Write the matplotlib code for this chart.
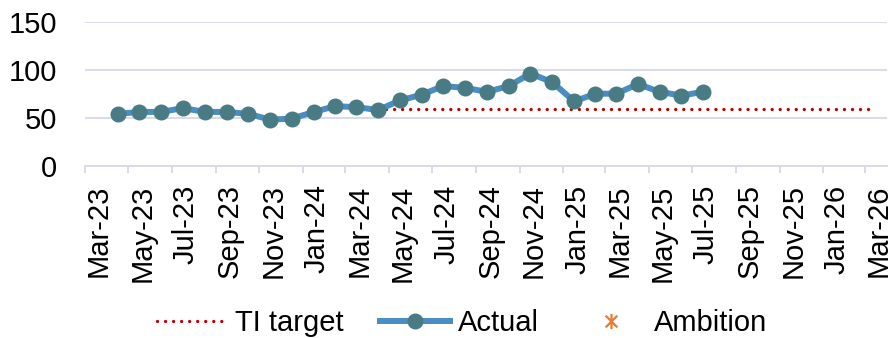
import matplotlib
matplotlib.use("Agg")
import matplotlib.pyplot as plt
import matplotlib.dates as mdates
from matplotlib.path import Path
import pandas as pd

# monthly values, one per month starting Apr-23
actual_start = "2023-04"
actual = [54, 56, 56, 60, 56, 56, 54, 48, 49, 56, 62, 61, 58, 68,
          74, 83, 81, 77, 83, 96, 87, 67, 75, 75, 85, 77, 73, 77]

target_start = "2024-04"
target = [59] * 24          # Apr-24 .. Mar-26

ambition = []               # only shown in the legend

y_ticks = [0, 50, 100, 150]


def mid_month(start, n):
    # Excel puts each monthly point in the middle of its month slot
    per = pd.period_range(start, periods=n, freq="M")
    return [p.start_time + (p.end_time - p.start_time) / 2 for p in per]


plt.rcParams["font.family"] = ["Liberation Sans", "DejaVu Sans"]

fig = plt.figure(figsize=(8.94, 3.38), dpi=100)
ax = fig.add_axes([85 / 894, 1 - 165.7 / 338, 802 / 894, 144 / 338])

grid_col = "#D9D9E8"

ax.plot(mid_month(target_start, len(target)), target, color="#C00000",
        lw=2.4, linestyle=(0, (0.01, 2.4)), dash_capstyle="round",
        label="TI target", zorder=2)
ax.plot(mid_month(actual_start, len(actual)), actual, color="#4A8CC4",
        lw=4.3, marker="o", markersize=10.5, markerfacecolor="#497B84",
        markeredgecolor="#497B84", label="Actual", zorder=3)

# Excel style star marker: X plus a vertical bar
star = Path([(-1, -1), (1, 1), (-1, 1), (1, -1), (0, -1.3), (0, 1.3)],
            [Path.MOVETO, Path.LINETO] * 3)
ax.plot(ambition, ambition, linestyle="none", marker=star, markersize=11,
        markeredgewidth=1.6, color="#E67E30", label="Ambition")

ax.set_ylim(0, 150)
ax.set_yticks(y_ticks)
ax.set_xlim(pd.Timestamp("2023-03-01"), pd.Timestamp("2026-04-01"))
ax.xaxis.set_major_locator(mdates.MonthLocator(bymonth=[1, 3, 5, 7, 9, 11]))
ax.xaxis.set_major_formatter(mdates.DateFormatter("%b-%y"))

ax.grid(axis="y", color=grid_col, lw=1.4)
ax.set_axisbelow(True)
for s in ["top", "right", "left"]:
    ax.spines[s].set_visible(False)
ax.spines["bottom"].set_color(grid_col)
ax.spines["bottom"].set_linewidth(1.4)

ax.tick_params(axis="y", length=0, pad=20, labelsize=21)
ax.tick_params(axis="x", direction="out", length=5, width=1.4,
               color=grid_col, pad=8.5, labelsize=21)
for lab in ax.get_xticklabels():
    lab.set_rotation(90)
    lab.set_ha("left")

fig.legend(loc="center", bbox_to_anchor=(462 / 894, 1 - 323 / 338),
           ncol=3, frameon=False, fontsize=21, borderpad=0,
           handlelength=2.4, handletextpad=0.27, columnspacing=1.27)

fig.savefig("out.png", dpi=100)
